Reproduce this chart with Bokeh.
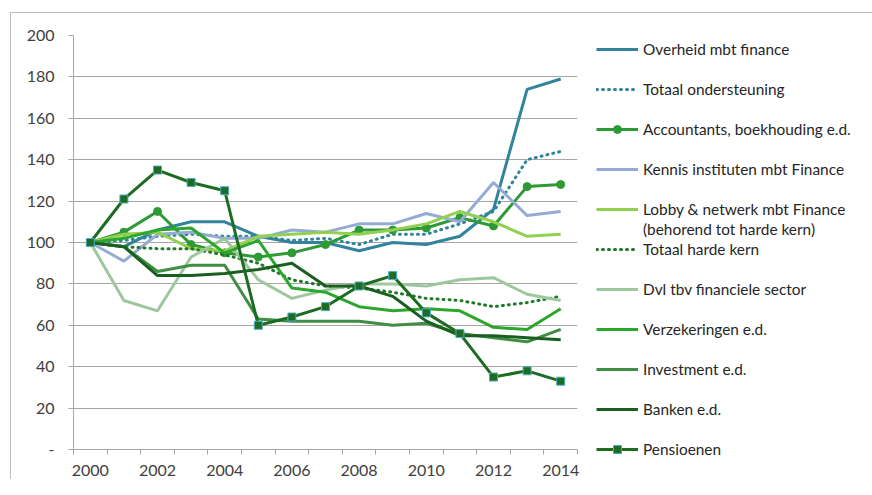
from bokeh.plotting import figure
from bokeh.models import FixedTicker, Legend, LegendItem, Range1d
from bokeh.embed import file_html
from bokeh.resources import INLINE

years = list(range(2000, 2015))

overheid = [100, 98, 106, 110, 110, 103, 100, 100, 96, 100, 99, 103, 116, 174, 179]
totaal_ondersteuning = [100, 101, 103, 104, 103, 103, 101, 102, 99, 104, 104, 109, 115, 140, 144]
accountants = [100, 105, 115, 99, 95, 93, 95, 99, 106, 106, 107, 112, 108, 127, 128]
kennis = [100, 91, 104, 105, 102, 102, 106, 105, 109, 109, 114, 110, 129, 113, 115]
lobby = [100, 104, 105, 97, 96, 103, 104, 105, 104, 106, 109, 115, 110, 103, 104]
totaal_harde_kern = [100, 98, 97, 97, 94, 90, 82, 79, 78, 76, 73, 72, 69, 71, 74]
dvl = [100, 72, 67, 93, 102, 82, 73, 77, 80, 80, 79, 82, 83, 75, 72]
verzekeringen = [100, 102, 106, 107, 95, 101, 78, 76, 69, 67, 68, 67, 59, 58, 68]
investment = [100, 98, 86, 89, 89, 63, 62, 62, 62, 60, 61, 56, 54, 52, 58]
banken = [100, 98, 84, 84, 85, 87, 90, 79, 79, 74, 62, 55, 55, 54, 53]
pensioenen = [100, 121, 135, 129, 125, 60, 64, 69, 79, 84, 66, 56, 35, 38, 33]

y_ticks = list(range(0, 201, 20))
x_label_years = list(range(2000, 2015, 2))

FONT = "Lato"

p = figure(frame_width=504, frame_height=414,
           x_range=Range1d(1999.5, 2014.5), y_range=Range1d(0, 200),
           output_backend="svg", toolbar_location=None,
           min_border_left=62, min_border_right=294,
           min_border_top=22, min_border_bottom=30)
p.styles = {"margin-left": "10px", "margin-top": "12px",
            "border-left": "1px solid #BFBFBF", "border-top": "1px solid #BFBFBF"}
p.outline_line_color = None
p.background_fill_color = "white"
p.border_fill_color = "white"

p.xgrid.grid_line_color = None
p.ygrid.grid_line_color = "#A6A6A6"
p.ygrid.grid_line_width = 1

p.yaxis.ticker = FixedTicker(ticks=y_ticks)
p.yaxis.major_label_overrides = {0: "-"}
p.yaxis.axis_line_color = "#A6A6A6"
p.yaxis.major_tick_line_color = "#A6A6A6"
p.yaxis.major_tick_out = 5
p.yaxis.major_tick_in = 0
p.yaxis.minor_tick_line_color = None
p.yaxis.major_label_standoff = 14
p.yaxis.major_label_text_font = FONT
p.yaxis.major_label_text_font_size = "16px"
p.yaxis.major_label_text_color = "#404040"

p.xaxis.ticker = FixedTicker(ticks=x_label_years,
                             minor_ticks=[y - 0.5 for y in years] + [years[-1] + 0.5])
p.xaxis.axis_line_color = "#A6A6A6"
p.xaxis.major_tick_line_color = None
p.xaxis.major_tick_out = 0
p.xaxis.major_tick_in = 0
p.xaxis.minor_tick_line_color = "#A6A6A6"
p.xaxis.minor_tick_out = 5
p.xaxis.minor_tick_in = 0
p.xaxis.major_label_standoff = 10
p.xaxis.major_label_text_font = FONT
p.xaxis.major_label_text_font_size = "16px"
p.xaxis.major_label_text_color = "#404040"

W = 3
TEAL = "#31849B"

items = []

def add(label, renderers):
    items.append(LegendItem(label=label, renderers=renderers))

def filler():
    items.append(LegendItem(label="", renderers=[]))

r = p.line(years, overheid, line_color=TEAL, line_width=W)
add("Overheid mbt finance", [r]); filler()

r = p.line(years, totaal_ondersteuning, line_color=TEAL, line_width=3,
           line_dash="1 5", line_cap="round")
add("Totaal ondersteuning", [r]); filler()

r1 = p.line(years, accountants, line_color="#2E9A36", line_width=W)
r2 = p.scatter(years, accountants, marker="circle", size=8,
               fill_color="#2E9A36", line_color="#2E9A36")
add("Accountants, boekhouding e.d.", [r1, r2]); filler()

r = p.line(years, kennis, line_color="#95ABD3", line_width=W)
add("Kennis instituten mbt Finance", [r]); filler()

r = p.line(years, lobby, line_color="#92D050", line_width=W)
add("Lobby & netwerk mbt Finance", [r])
add("(behorend tot harde kern)", [])

r = p.line(years, totaal_harde_kern, line_color="#1E7A28", line_width=3,
           line_dash="1 5", line_cap="round")
add("Totaal harde kern", [r]); filler()

r = p.line(years, dvl, line_color="#9DC79D", line_width=W)
add("Dvl tbv financiele sector", [r]); filler()

r = p.line(years, verzekeringen, line_color="#2CA62C", line_width=W)
add("Verzekeringen e.d.", [r]); filler()

r = p.line(years, investment, line_color="#3E8E45", line_width=W)
add("Investment e.d.", [r]); filler()

r = p.line(years, banken, line_color="#1A5E20", line_width=W)
add("Banken e.d.", [r]); filler()

r1 = p.line(years, pensioenen, line_color="#1E6B22", line_width=W)
r2 = p.scatter(years, pensioenen, marker="square", size=8,
               fill_color="#1E6B22", line_color="#4BACC6", line_width=1)
add("Pensioenen", [r1, r2])

legend = Legend(items=items, location=(19, -10))
legend.margin = 0
legend.padding = 0
legend.spacing = 0
legend.glyph_width = 42
legend.glyph_height = 20
legend.label_height = 20
legend.label_standoff = 5
legend.label_text_font = FONT
legend.label_text_font_size = "15.4px"
legend.label_text_color = "#262626"
legend.border_line_color = None
legend.background_fill_alpha = 0
p.add_layout(legend, "right")

open("out.html", "w").write(file_html(p, INLINE))
